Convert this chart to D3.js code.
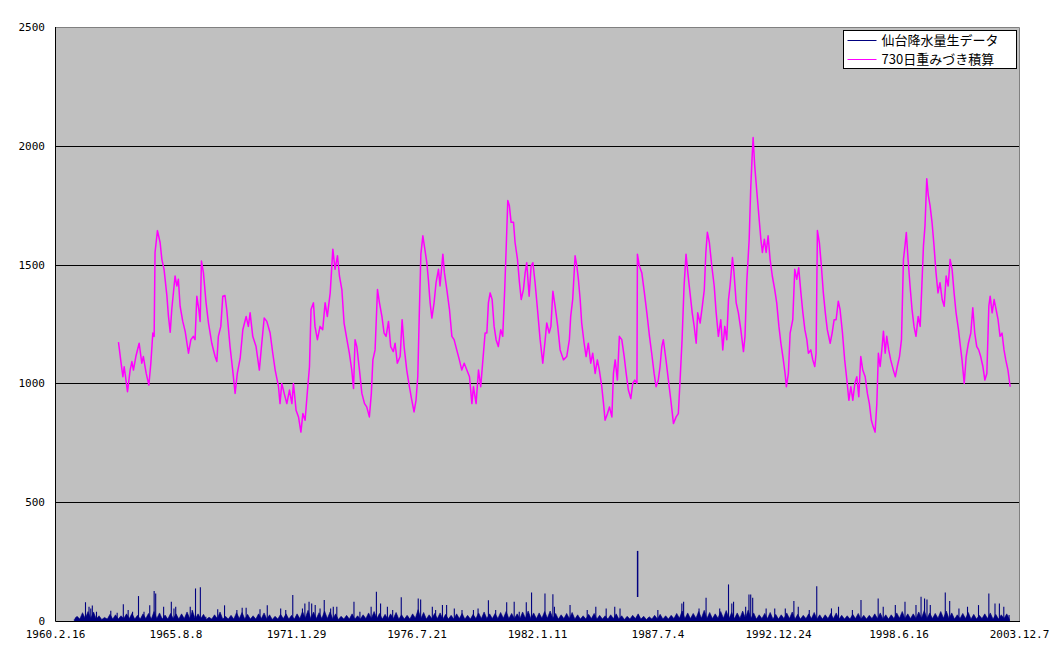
<!DOCTYPE html>
<html><head><meta charset="utf-8">
<script src="https://cdn.jsdelivr.net/npm/d3@7"></script>
<style>body{margin:0;background:#fff}svg{display:block}</style>
</head><body>
<svg id="chart" width="1059" height="659"></svg>
<script>
// ---- data (decimal years / mm) ----
const sumYears = [
1963.01,1963.12,1963.21,1963.27,1963.42,1963.54,1963.62,1963.69,1963.80,1963.95,
1964.07,1964.14,1964.27,1964.39,1964.48,1964.57,1964.63,1964.67,1964.78,1964.90,
1964.98,1965.08,1965.21,1965.28,1965.36,1965.43,1965.58,1965.66,1965.73,1965.81,
1965.93,1966.04,1966.19,1966.30,1966.41,1966.49,1966.57,1966.66,1966.72,1966.78,
1966.87,1966.99,1967.10,1967.25,1967.40,1967.48,1967.55,1967.66,1967.75,1967.85,
1967.93,1968.08,1968.20,1968.31,1968.41,1968.54,1968.66,1968.81,1968.91,1968.99,
1969.11,1969.26,1969.41,1969.52,1969.63,1969.75,1969.90,1970.02,1970.13,1970.28,
1970.35,1970.43,1970.54,1970.66,1970.78,1970.89,1970.96,1971.08,1971.19,1971.30,
1971.39,1971.49,1971.60,1971.69,1971.76,1971.87,1971.94,1972.05,1972.17,1972.29,
1972.40,1972.50,1972.63,1972.75,1972.85,1972.96,1973.05,1973.16,1973.26,1973.39,
1973.50,1973.61,1973.69,1973.76,1973.84,1973.96,1974.07,1974.19,1974.29,1974.41,
1974.50,1974.57,1974.67,1974.78,1974.87,1974.98,1975.08,1975.17,1975.28,1975.38,
1975.50,1975.58,1975.68,1975.81,1975.90,1975.99,1976.11,1976.23,1976.34,1976.44,
1976.53,1976.61,1976.68,1976.75,1976.84,1976.93,1977.02,1977.09,1977.17,1977.25,
1977.35,1977.44,1977.55,1977.62,1977.75,1977.82,1977.93,1978.05,1978.16,1978.26,
1978.38,1978.50,1978.61,1978.72,1978.84,1978.96,1979.07,1979.14,1979.26,1979.37,
1979.47,1979.57,1979.67,1979.75,1979.82,1979.90,1979.99,1980.08,1980.17,1980.27,
1980.38,1980.47,1980.56,1980.62,1980.70,1980.77,1980.85,1980.96,1981.03,1981.14,
1981.23,1981.31,1981.41,1981.49,1981.56,1981.67,1981.76,1981.84,1981.94,1982.05,
1982.17,1982.29,1982.40,1982.47,1982.58,1982.66,1982.75,1982.85,1982.97,1983.08,
1983.23,1983.38,1983.50,1983.56,1983.65,1983.76,1983.84,1983.91,1983.99,1984.06,
1984.17,1984.26,1984.36,1984.47,1984.56,1984.67,1984.77,1984.86,1984.97,1985.05,
1985.12,1985.23,1985.32,1985.43,1985.50,1985.58,1985.68,1985.77,1985.88,1985.99,
1986.08,1986.18,1986.29,1986.38,1986.47,1986.57,1986.59,1986.68,1986.79,1986.89,
1987.02,1987.14,1987.24,1987.35,1987.44,1987.54,1987.62,1987.70,1987.77,1987.89,
1988.00,1988.11,1988.23,1988.35,1988.45,1988.53,1988.62,1988.71,1988.80,1988.88,
1988.98,1989.08,1989.17,1989.26,1989.33,1989.44,1989.54,1989.63,1989.70,1989.77,
1989.86,1989.97,1990.08,1990.17,1990.27,1990.38,1990.47,1990.56,1990.65,1990.73,
1990.80,1990.91,1990.98,1991.08,1991.18,1991.29,1991.41,1991.48,1991.56,1991.67,
1991.74,1991.80,1991.85,1991.92,1992.02,1992.11,1992.20,1992.27,1992.36,1992.44,
1992.53,1992.62,1992.72,1992.83,1992.92,1993.02,1993.11,1993.20,1993.30,1993.36,
1993.45,1993.53,1993.65,1993.74,1993.83,1993.92,1994.02,1994.11,1994.20,1994.29,
1994.36,1994.47,1994.56,1994.65,1994.71,1994.77,1994.86,1994.95,1995.04,1995.13,
1995.22,1995.35,1995.44,1995.53,1995.62,1995.72,1995.80,1995.91,1996.01,1996.11,
1996.20,1996.29,1996.38,1996.47,1996.56,1996.65,1996.74,1996.83,1996.94,1997.04,
1997.13,1997.22,1997.31,1997.39,1997.47,1997.54,1997.62,1997.71,1997.77,1997.85,
1997.92,1998.01,1998.10,1998.22,1998.31,1998.40,1998.50,1998.59,1998.68,1998.75,
1998.81,1998.89,1998.98,1999.07,1999.16,1999.25,1999.35,1999.44,1999.51,1999.59,
1999.66,1999.74,1999.81,1999.89,1999.98,2000.07,2000.16,2000.25,2000.34,2000.44,
2000.53,2000.62,2000.71,2000.80,2000.89,2000.98,2001.07,2001.18,2001.25,2001.34,
2001.44,2001.53,2001.63,2001.74,2001.83,2001.92,2002.01,2002.10,2002.19,2002.29,
2002.38,2002.47,2002.56,2002.62,2002.71,2002.80,2002.89,2002.98,2003.07,2003.16,
2003.25,2003.33,2003.43,2003.53];
const sumValues = [
1174,1092,1028,1070,965,1056,1092,1056,1113,1169,
1085,1113,1042,993,1085,1212,1198,1551,1643,1593,
1522,1480,1367,1282,1215,1311,1452,1410,1438,1325,
1261,1219,1127,1184,1198,1184,1367,1311,1261,1515,
1466,1339,1254,1169,1113,1092,1198,1240,1367,1370,
1311,1155,1056,958,1042,1106,1226,1282,1240,1297,
1198,1155,1056,1169,1275,1261,1212,1127,1056,986,
915,1000,958,915,972,915,1000,887,859,795,
873,845,972,1071,1311,1339,1240,1184,1240,1226,
1339,1282,1381,1565,1480,1537,1452,1395,1254,1184,
1127,1056,979,1184,1155,1056,958,915,901,859,
958,1099,1141,1395,1339,1282,1212,1198,1261,1155,
1134,1169,1085,1113,1268,1155,1056,986,929,880,
929,1028,1297,1544,1621,1565,1508,1438,1339,1275,
1339,1424,1480,1410,1544,1466,1395,1311,1198,1184,
1141,1099,1056,1085,1056,1028,915,986,915,1056,
986,1099,1212,1212,1339,1381,1353,1240,1184,1155,
1226,1198,1395,1551,1770,1749,1678,1678,1593,1522,
1424,1353,1395,1466,1508,1367,1494,1508,1424,1311,
1184,1085,1184,1254,1212,1240,1388,1325,1240,1141,
1099,1113,1184,1282,1353,1537,1494,1438,1353,1254,
1169,1113,1169,1085,1127,1042,1099,1056,986,915,
845,873,901,859,1042,1099,1014,1198,1184,1113,
1042,972,936,1000,1014,1000,1544,1494,1466,1395,
1297,1198,1127,1042,986,1014,1071,1155,1184,1099,
1014,929,831,859,873,1014,1184,1410,1544,1466,
1381,1297,1240,1169,1297,1254,1325,1395,1551,1636,
1593,1494,1410,1297,1198,1268,1141,1240,1184,1353,
1410,1530,1466,1339,1297,1226,1134,1198,1424,1607,
1819,1946,2035,1918,1805,1706,1607,1551,1607,1551,
1621,1522,1452,1395,1339,1240,1169,1113,1042,986,
1042,1212,1268,1480,1438,1487,1381,1297,1226,1184,
1127,1141,1099,1071,1127,1643,1593,1494,1381,1297,
1226,1169,1212,1268,1268,1346,1311,1212,1099,1014,
929,986,929,1000,1028,944,1113,1056,1028,958,
915,845,816,795,915,1127,1071,1155,1219,1127,
1198,1141,1099,1056,1028,1071,1113,1184,1522,1579,
1635,1522,1410,1311,1240,1198,1282,1240,1395,1579,
1664,1861,1791,1748,1678,1579,1466,1381,1424,1353,
1325,1452,1410,1522,1480,1381,1297,1226,1169,1099,
1000,1113,1169,1212,1318,1212,1155,1141,1113,1071,
1014,1042,1325,1367,1297,1353,1311,1268,1198,1212,
1141,1099,1056,986];

// daily rain: distinct peaks
const rainSpikeYears = [
1961.07,1961.51,1961.67,1961.75,1961.82,1962.01,1962.66,1962.95,1963.23,1963.45,
1963.65,1963.92,1964.17,1964.43,1964.63,1964.70,1965.06,1965.41,1965.53,1965.61,
1966.27,1966.36,1966.51,1966.73,1966.98,1967.52,1967.83,1968.39,1968.63,1968.81,
1969.44,1969.77,1970.38,1970.61,1970.93,1971.37,1971.48,1971.67,1971.79,1971.95,
1972.17,1972.36,1972.65,1972.77,1972.93,1973.71,1973.98,1974.49,1974.73,1974.92,
1975.23,1975.47,1975.86,1976.16,1976.63,1976.74,1977.27,1977.42,1977.73,1977.92,
1978.27,1978.62,1979.14,1979.35,1979.82,1980.15,1980.65,1980.99,1981.22,1981.54,
1981.78,1982.39,1982.75,1982.82,1983.53,1984.31,1984.70,1985.17,1985.56,1985.80,
1987.52,1988.61,1988.69,1989.39,1989.71,1990.33,1990.73,1990.88,1990.96,1991.51,
1991.66,1991.74,1991.83,1992.44,1992.83,1993.31,1993.70,1993.90,1994.40,1994.74,
1995.41,1995.73,1996.36,1996.75,1997.53,1997.76,1998.31,1998.75,1999.25,1999.48,
1999.64,1999.75,1999.90,2000.58,2000.78,2001.20,2001.59,2002.09,2002.56,2002.84,
2003.04,2003.24,2003.48];
const rainSpikeValues = [
15,79,60,53,65,39,43,35,70,46,
39,105,39,66,126,116,60,81,53,60,
60,46,137,142,18,49,66,46,56,56,
49,66,53,46,109,53,74,81,74,67,
53,88,53,60,60,81,39,60,123,74,
60,46,100,18,95,91,60,46,67,67,
53,46,46,53,87,46,79,81,39,79,
120,116,113,60,67,46,60,53,60,53,
46,74,81,53,98,53,154,74,81,60,
112,112,98,53,53,53,84,60,46,146,
53,60,46,88,95,60,67,81,67,102,
95,91,67,120,84,53,60,67,116,74,
74,60,25];
// daily rain: dense low band (jagged envelope, every 1/8 year from 1961.0 to 2003.5)
const rainBandStart = 1961.0;
const rainBandStep = 0.125;
const rainBandValues = [
6,20,8,35,10,40,10,38,  8,22,6,15,8,28,8,26,  8,22,10,30,10,32,8,24,  8,30,10,32,8,40,10,34,
8,25,8,32,10,30,8,30,  10,38,10,42,8,30,10,28,  6,16,8,26,10,38,8,20,  8,24,8,35,10,36,8,28,
8,22,8,30,10,34,8,26,  6,20,8,28,10,30,8,24,  8,30,10,40,12,45,10,38,  10,35,10,42,10,38,8,30,
6,20,8,24,8,30,8,22,  8,26,10,34,10,40,10,32,  8,28,8,30,10,36,8,26,  8,24,8,30,12,48,10,36,
8,26,10,32,10,34,8,28,  8,24,8,30,10,32,8,24,  8,28,10,34,10,38,10,30,  10,32,10,36,12,40,10,32,
10,30,10,38,12,42,10,34,  10,34,12,40,12,42,10,32,  8,26,10,32,10,36,8,26,  8,22,8,28,10,32,8,24,
8,22,8,26,10,30,8,22,  6,20,8,24,10,30,8,20,  6,18,8,24,8,28,8,22,  8,24,10,32,12,42,10,34,
10,32,12,40,12,45,10,36,  10,30,12,40,12,44,10,36,  10,34,12,42,12,46,10,34,  8,26,10,32,10,36,8,28,
8,26,10,34,10,38,8,28,  8,24,10,30,10,36,8,26,  8,26,10,32,10,34,8,24,  8,22,8,28,10,32,8,24,
8,24,10,30,10,34,8,26,  8,26,10,34,12,40,10,30,  10,30,10,38,12,44,10,34,  10,32,12,40,12,42,10,34,
8,26,10,32,10,36,8,28,  8,24,10,30,10,34,8,28,  8,26,10,30,6];
// a single jump in the daily line (1986 heavy rain)
const rainJumpYear = [1986.60];
const rainJumpFrom = [101];
const rainJumpTo = [295];

const yTicks = [0,500,1000,1500,2000,2500];
const xStartISO = "1960-02-16";
const xTickStepDays = 2000;
const xTickCount = 9;
const legendLabels = ["仙台降水量生データ","730日重みづき積算"];
const colors = {rain:"#000080", sum:"#ff00ff", plot:"#c0c0c0"};

// ---- helpers ----
function yearToDate(v){
  const Y = Math.floor(v), f = v - Y;
  const a = Date.UTC(Y,0,1), b = Date.UTC(Y+1,0,1);
  return new Date(a + f*(b-a));
}
const start = new Date(xStartISO + "T00:00:00Z");
const xTicks = d3.range(xTickCount).map(i => d3.utcDay.offset(start, i*xTickStepDays));

const M = {left:55, right:1019, top:27, bottom:621};
const svg = d3.select("#chart");
const x = d3.scaleUtc().domain([xTicks[0], xTicks[xTicks.length-1]]).range([M.left, M.right]);
const y = d3.scaleLinear().domain([0,2500]).range([M.bottom, M.top]);

// plot background
svg.append("rect").attr("x",M.left).attr("y",M.top).attr("width",M.right-M.left).attr("height",M.bottom-M.top)
  .attr("fill",colors.plot);

// grid
svg.append("g").selectAll("line").data(yTicks.filter(t=>t>0 && t<2500)).join("line")
  .attr("x1",M.left).attr("x2",M.right)
  .attr("y1",d=>Math.round(y(d))+0.5).attr("y2",d=>Math.round(y(d))+0.5)
  .attr("stroke","#000").attr("stroke-width",1);

// top/right border (grey)
svg.append("path").attr("d",`M${M.left},${M.top+0.5}H${M.right+0.5}V${M.bottom}`)
  .attr("fill","none").attr("stroke","#808080").attr("stroke-width",1);

// rain band
const band = rainBandValues.map((v,i)=>({d:yearToDate(rainBandStart + i*rainBandStep), v}));
svg.append("path").datum(band)
  .attr("d", d3.area().x(d=>x(d.d)).y0(y(0)).y1(d=>y(d.v)))
  .attr("fill",colors.rain).attr("stroke",colors.rain).attr("stroke-width",0.6);

// rain spikes
svg.append("g").selectAll("line").data(rainSpikeYears.map((t,i)=>({d:yearToDate(t), v:rainSpikeValues[i]}))).join("line")
  .attr("x1",d=>x(d.d)).attr("x2",d=>x(d.d)).attr("y1",y(0)).attr("y2",d=>y(d.v))
  .attr("stroke",colors.rain).attr("stroke-width",1.1);
svg.append("g").selectAll("line").data(rainJumpYear.map((t,i)=>({d:yearToDate(t), a:rainJumpFrom[i], b:rainJumpTo[i]}))).join("line")
  .attr("x1",d=>x(d.d)).attr("x2",d=>x(d.d)).attr("y1",d=>y(d.a)).attr("y2",d=>y(d.b))
  .attr("stroke",colors.rain).attr("stroke-width",1.5);

// 730-day sum
const sum = sumYears.map((t,i)=>({d:yearToDate(t), v:sumValues[i]}));
svg.append("path").datum(sum)
  .attr("d", d3.line().x(d=>x(d.d)).y(d=>y(d.v)))
  .attr("fill","none").attr("stroke",colors.sum).attr("stroke-width",1.5).attr("stroke-linejoin","round");

// axes lines
svg.append("path").attr("d",`M${M.left+0.5},${M.top}V${M.bottom+0.5}H${M.right+1}`)
  .attr("fill","none").attr("stroke","#000").attr("stroke-width",1);

const font = "'DejaVu Sans Mono', monospace";
const yAxis = svg.append("g").attr("transform",`translate(${M.left},0)`)
  .call(d3.axisLeft(y).tickValues(yTicks).tickSize(0).tickPadding(10).tickFormat(d3.format("d")));
yAxis.select(".domain").remove();
yAxis.selectAll("text").attr("font-family",font).attr("font-size",11).attr("fill","#000");

const fmt = d => `${d.getUTCFullYear()}.${d.getUTCMonth()+1}.${d.getUTCDate()}`;
const xAxis = svg.append("g").attr("transform",`translate(0,${M.bottom})`)
  .call(d3.axisBottom(x).tickValues(xTicks).tickSize(0).tickPadding(9).tickFormat(fmt));
xAxis.select(".domain").remove();
xAxis.selectAll("text").attr("font-family",font).attr("font-size",11).attr("fill","#000");

// legend
const lg = svg.append("g").attr("transform","translate(843.5,30.5)");
lg.append("rect").attr("width",173).attr("height",38).attr("fill","#fff").attr("stroke","#000");
[colors.rain, colors.sum].forEach((c,i)=>{
  const yy = 10 + i*19;
  lg.append("line").attr("x1",4).attr("x2",33).attr("y1",yy).attr("y2",yy).attr("stroke",c).attr("stroke-width",1);
  lg.append("text").attr("x",38).attr("y",yy).attr("dy","0.36em")
    .attr("font-family","'Noto Sans CJK JP', sans-serif").attr("font-size",13).attr("fill","#000")
    .text(legendLabels[i]);
});
</script>
</body></html>
